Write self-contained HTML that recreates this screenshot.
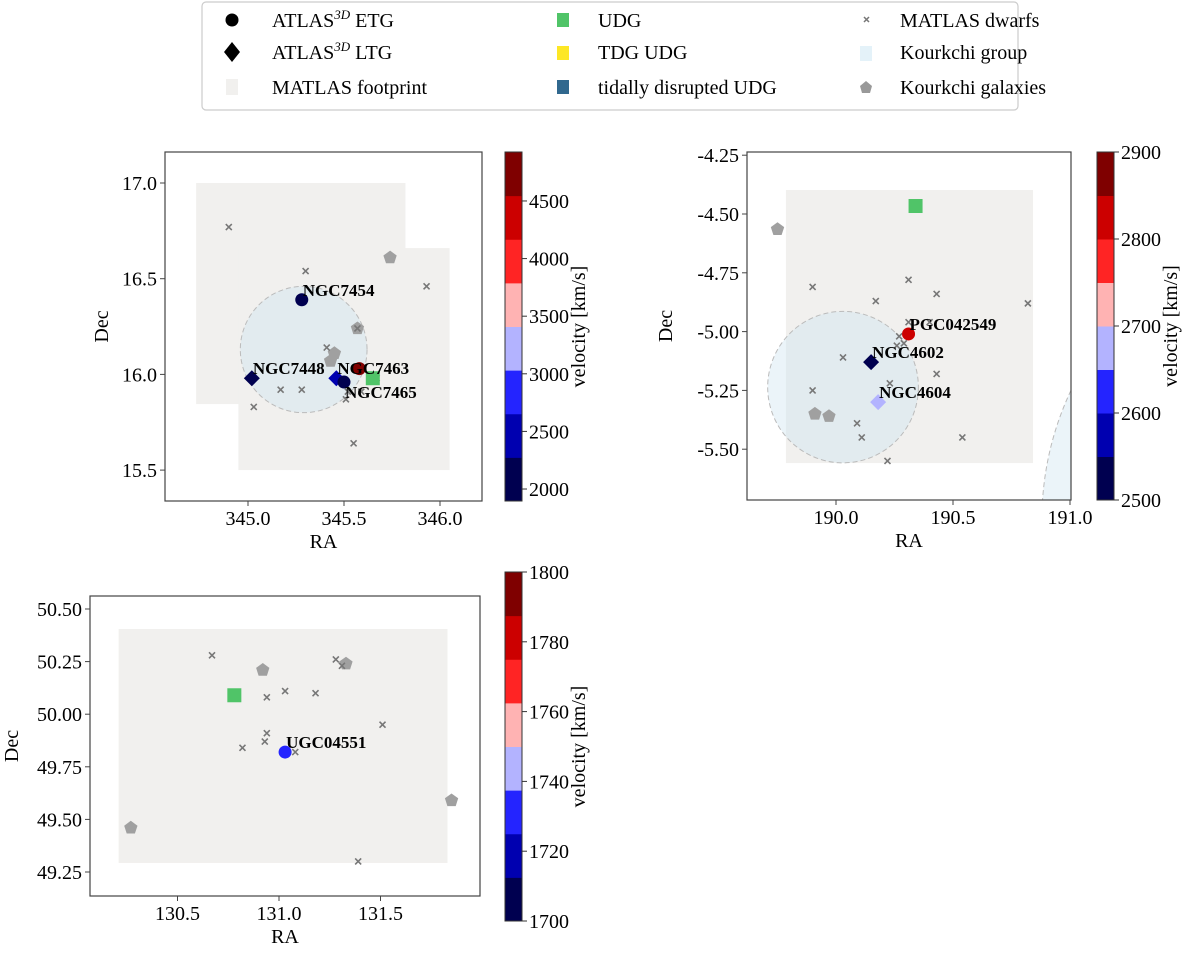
<!DOCTYPE html>
<html><head><meta charset="utf-8"><style>
body{margin:0;background:#fff;}
svg, svg text{font-family:"Liberation Serif","DejaVu Serif",serif;}
</style></head><body>
<svg id="fig" width="1200" height="958" viewBox="0 0 1200 958" font-family="Liberation Serif, serif">
<g id="legend">
<rect x="202" y="2" width="816" height="108" rx="4" fill="#fff" stroke="#ccc" stroke-width="1.2"/>
<g><circle cx="232" cy="20" r="6.5" fill="#000"/><text x="272" y="27" font-size="20">ATLAS<tspan font-size="13" dy="-8" font-style="italic">3D</tspan><tspan dy="8"> ETG</tspan></text></g>
<g><polygon points="232,42 240,52 232,62 224,52" fill="#000"/><text x="272" y="59" font-size="20">ATLAS<tspan font-size="13" dy="-8" font-style="italic">3D</tspan><tspan dy="8"> LTG</tspan></text></g>
<g><rect x="226" y="79" width="12" height="16" fill="#f1f0ee"/><text x="272" y="94" font-size="20">MATLAS footprint</text></g>
<g><rect x="557" y="13" width="12" height="14" fill="#50c468"/><text x="598" y="27" font-size="20">UDG</text></g>
<g><rect x="557" y="46" width="12" height="14" fill="#fde725"/><text x="598" y="59" font-size="20">TDG UDG</text></g>
<g><rect x="557" y="80" width="12" height="14" fill="#31688e"/><text x="598" y="94" font-size="20">tidally disrupted UDG</text></g>
<g><path d="M864,17 l5,5 M869,17 l-5,5" stroke="#777" stroke-width="1.5"/><text x="900" y="27" font-size="20">MATLAS dwarfs</text></g>
<g><rect x="860" y="46" width="12" height="15" fill="#e4f2f9"/><text x="900" y="59" font-size="20">Kourkchi group</text></g>
<g><polygon points="866,81 872,86 870,93 862,93 860,86" fill="#999"/><text x="900" y="94" font-size="20">Kourkchi galaxies</text></g>
</g>
</svg>
<script>
// ---- Panel 1 (NGC7454 group) ----
const p1Ticks = [345.0, 345.5, 346.0];
const p1YTicks = [15.5, 16.0, 16.5, 17.0];
const p1CbTicks = [2000, 2500, 3000, 3500, 4000, 4500];
const p1Foot = [[344.73, 345.82, 15.845, 17.0], [344.95, 346.05, 15.5, 16.66]];
const p1Group = [[345.29, 16.13, 0.33]];
const p1EtgRA = [345.28, 345.50, 345.58];
const p1EtgDec = [16.39, 15.96, 16.03];
const p1EtgVel = [2020, 1960, 4600];
const p1EtgName = ["NGC7454", "NGC7465", ""];
const p1EtgLabDy = [0, 20, 0];
const p1LtgRA = [345.02, 345.46];
const p1LtgDec = [15.98, 15.98];
const p1LtgVel = [2200, 2400];
const p1LtgName = ["NGC7448", "NGC7463"];
const p1UdgRA = [345.65];
const p1UdgDec = [15.98];
const p1KgRA = [345.74, 345.57, 345.45, 345.43];
const p1KgDec = [16.61, 16.24, 16.11, 16.07];
const p1DwRA = [344.90, 345.30, 345.93, 345.57, 345.41, 345.17, 345.28, 345.03, 345.51, 345.52, 345.59, 345.67, 345.55];
const p1DwDec = [16.77, 16.54, 16.46, 16.24, 16.14, 15.92, 15.92, 15.83, 15.87, 15.91, 15.91, 15.98, 15.64];

// ---- Panel 2 (NGC4602 group) ----
const p2Ticks = [190.0, 190.5, 191.0];
const p2YTicks = [-5.5, -5.25, -5.0, -4.75, -4.5, -4.25];
const p2CbTicks = [2500, 2600, 2700, 2800, 2900];
const p2Foot = [[189.786, 190.842, -5.559, -4.398]];
const p2Group = [[190.03, -5.236, 0.322], [192.16, -5.80, 1.28]];
const p2EtgRA = [190.31];
const p2EtgDec = [-5.01];
const p2EtgVel = [2825];
const p2EtgName = ["PGC042549"];
const p2EtgLabDy = [0];
const p2LtgRA = [190.15, 190.18];
const p2LtgDec = [-5.13, -5.30];
const p2LtgVel = [2520, 2670];
const p2LtgName = ["NGC4602", "NGC4604"];
const p2UdgRA = [190.34];
const p2UdgDec = [-4.466];
const p2KgRA = [189.75, 189.91, 189.97];
const p2KgDec = [-4.565, -5.35, -5.36];
const p2DwRA = [189.90, 190.31, 190.17, 190.43, 190.82, 190.31, 190.40, 190.27, 190.29, 190.26, 190.03, 190.43, 190.23, 189.90, 190.09, 190.11, 190.54, 190.22];
const p2DwDec = [-4.81, -4.78, -4.87, -4.84, -4.88, -4.96, -4.96, -5.02, -5.05, -5.06, -5.11, -5.18, -5.22, -5.25, -5.39, -5.45, -5.45, -5.55];

// ---- Panel 3 (UGC04551) ----
const p3Ticks = [130.5, 131.0, 131.5];
const p3YTicks = [49.25, 49.5, 49.75, 50.0, 50.25, 50.5];
const p3CbTicks = [1700, 1720, 1740, 1760, 1780, 1800];
const p3Foot = [[130.21, 131.83, 49.293, 50.405]];
const p3Group = [];
const p3EtgRA = [131.03];
const p3EtgDec = [49.82];
const p3EtgVel = [1735];
const p3EtgName = ["UGC04551"];
const p3EtgLabDy = [0];
const p3LtgRA = [];
const p3LtgDec = [];
const p3LtgVel = [];
const p3LtgName = [];
const p3UdgRA = [130.78];
const p3UdgDec = [50.09];
const p3KgRA = [130.92, 131.33, 131.85, 130.27];
const p3KgDec = [50.21, 50.24, 49.59, 49.46];
const p3DwRA = [130.67, 131.28, 131.31, 131.03, 130.94, 131.18, 131.51, 130.94, 130.93, 130.82, 131.08, 131.39];
const p3DwDec = [50.28, 50.26, 50.23, 50.11, 50.08, 50.10, 49.95, 49.91, 49.87, 49.84, 49.82, 49.30];

const bandColors = ["#000050", "#0000b0", "#2424ff", "#b3b3ff", "#ffb3b3", "#ff2424", "#cc0000", "#7f0000"];
const NS = "http://www.w3.org/2000/svg";
const FONT = '"Liberation Serif", "DejaVu Serif", serif';
const svg = document.getElementById('fig');
function mk(tag, attrs, parent) {
  const e = document.createElementNS(NS, tag);
  for (const k in attrs) e.setAttribute(k, attrs[k]);
  if (tag === 'text') e.setAttribute('font-family', FONT);
  parent.appendChild(e);
  return e;
}
function fmt(v, d) { return v.toFixed(d); }

function panel(cfg, id) {
  const g = mk('g', {}, svg);
  
  
  const xS = v => cfg.px0 + (v - cfg.x0) * cfg.kx;
  const yS = v => cfg.py0 - (v - cfg.y0) * cfg.ky;
  const cp = mk('clipPath', {id: 'clip' + id}, g);
  mk('rect', {x: cfg.L, y: cfg.T, width: cfg.R - cfg.L, height: cfg.B - cfg.T}, cp);
  const plot = mk('g', {'clip-path': 'url(#clip' + id + ')'}, g);
  cfg.foot.forEach(f => {
    const r = mk('rect', {x: xS(f[0]), y: yS(f[3]), width: xS(f[1]) - xS(f[0]), height: yS(f[2]) - yS(f[3]), fill: '#f1f0ee'}, plot);
    
    
  });
  cfg.group.forEach(c => {
    const e = mk('ellipse', {cx: xS(c[0]), cy: yS(c[1]), rx: c[2] * cfg.kx, ry: c[2] * cfg.ky, fill: 'rgba(205,228,240,0.4)', stroke: '#bbb', 'stroke-dasharray': '5,3', 'stroke-width': 1}, plot);
    
    
  });
  const col = v => {
    let i = Math.floor((v - cfg.vmin) / (cfg.vmax - cfg.vmin) * 8);
    i = Math.max(0, Math.min(7, i));
    return bandColors[i];
  };
  cfg.kgRA.forEach((ra, i) => {
    const x = xS(ra), y = yS(cfg.kgDec[i]), r = 7;
    let pts = [];
    for (let k = 0; k < 5; k++) { const a = -Math.PI / 2 + k * 2 * Math.PI / 5; pts.push((x + r * Math.cos(a)).toFixed(1) + ',' + (y + r * Math.sin(a)).toFixed(1)); }
    const p = mk('polygon', {points: pts.join(' '), fill: '#a0a0a0'}, plot);
    
    
  });
  cfg.dwRA.forEach((ra, i) => {
    const x = xS(ra), y = yS(cfg.dwDec[i]);
    const p = mk('path', {d: `M${x-3},${y-3}L${x+3},${y+3}M${x+3},${y-3}L${x-3},${y+3}`, stroke: '#777', 'stroke-width': 1.6}, plot);
    
    
  });
  cfg.udgRA.forEach((ra, i) => {
    const x = xS(ra), y = yS(cfg.udgDec[i]);
    const p = mk('rect', {x: x - 7, y: y - 7, width: 14, height: 14, fill: '#50c468'}, plot);
    
    
  });
  cfg.ltgRA.forEach((ra, i) => {
    const x = xS(ra), y = yS(cfg.ltgDec[i]);
    const p = mk('polygon', {points: `${x},${y-8} ${x+8},${y} ${x},${y+8} ${x-8},${y}`, fill: col(cfg.ltgVel[i])}, plot);
    
    
  });
  cfg.etgRA.forEach((ra, i) => {
    const x = xS(ra), y = yS(cfg.etgDec[i]);
    const p = mk('circle', {cx: x, cy: y, r: 6.5, fill: col(cfg.etgVel[i])}, plot);
    
    
  });
  const labs = [];
  cfg.etgRA.forEach((ra, i) => labs.push([ra, cfg.etgDec[i], cfg.etgName[i], cfg.etgDy[i]]));
  cfg.ltgRA.forEach((ra, i) => labs.push([ra, cfg.ltgDec[i], cfg.ltgName[i], 0]));
  labs.forEach(l => {
    if (!l[2]) return;
    const t = mk('text', {x: xS(l[0]) + 1, y: yS(l[1]) - 4 + l[3], 'font-size': 17, 'font-weight': 'bold'}, g);
    t.textContent = l[2];
    
    
  });
  const fr = mk('rect', {x: cfg.L, y: cfg.T, width: cfg.R - cfg.L, height: cfg.B - cfg.T, fill: 'none', stroke: '#444', 'stroke-width': 1.2}, g);
  
  
  cfg.xt.forEach(v => {
    const x = xS(v);
    mk('line', {x1: x, x2: x, y1: cfg.B, y2: cfg.B + 5, stroke: '#444'}, g);
    const t = mk('text', {x: x, y: cfg.B + 24, 'font-size': 20, 'text-anchor': 'middle'}, g);
    t.textContent = fmt(v, 1);
    
    
  });
  cfg.yt.forEach(v => {
    const y = yS(v);
    mk('line', {x1: cfg.L - 5, x2: cfg.L, y1: y, y2: y, stroke: '#444'}, g);
    const t = mk('text', {x: cfg.L - 8, y: y + 7, 'font-size': 20, 'text-anchor': 'end'}, g);
    t.textContent = fmt(v, cfg.yd);
    
    
  });
  const xl = mk('text', {x: (cfg.L + cfg.R) / 2, y: cfg.B + 47, 'font-size': 20, 'text-anchor': 'middle'}, g);
  xl.textContent = 'RA';
  
  
  const yl = mk('text', {x: 0, y: 0, 'font-size': 20, 'text-anchor': 'middle', transform: `translate(${cfg.ylx},${(cfg.T + cfg.B) / 2}) rotate(-90)`}, g);
  yl.textContent = 'Dec';
  
  
  // colorbar
  const cb = mk('g', {}, g);
  
  
  const ch = (cfg.cbB - cfg.cbT) / 8;
  for (let k = 0; k < 8; k++) {
    mk('rect', {x: cfg.cbX, y: cfg.cbB - (k + 1) * ch, width: 17, height: ch + 0.5, fill: bandColors[k]}, cb);
  }
  mk('rect', {x: cfg.cbX, y: cfg.cbT, width: 17, height: cfg.cbB - cfg.cbT, fill: 'none', stroke: '#333', 'stroke-width': 1}, cb);
  const cy = v => cfg.cbB - (v - cfg.vmin) / (cfg.vmax - cfg.vmin) * (cfg.cbB - cfg.cbT);
  cfg.cbt.forEach(v => {
    const y = cy(v);
    mk('line', {x1: cfg.cbX + 17, x2: cfg.cbX + 22, y1: y, y2: y, stroke: '#333'}, cb);
    const t = mk('text', {x: cfg.cbX + 24, y: y + 7, 'font-size': 20}, cb);
    t.textContent = String(v);
    
    
  });
  const cl = mk('text', {x: 0, y: 0, 'font-size': 20, 'text-anchor': 'middle', transform: `translate(${cfg.cbX + 80},${(cfg.cbT + cfg.cbB) / 2}) rotate(-90)`}, cb);
  cl.textContent = 'velocity [km/s]';
  
  
}

panel({L: 165, R: 482, T: 152, B: 501, px0: 248, x0: 345, kx: 192, py0: 183, y0: 17, ky: 191.4, yd: 1, ylx: 108,
  xt: p1Ticks, yt: p1YTicks, cbt: p1CbTicks, foot: p1Foot, group: p1Group,
  etgRA: p1EtgRA, etgDec: p1EtgDec, etgVel: p1EtgVel, etgName: p1EtgName, etgDy: p1EtgLabDy,
  ltgRA: p1LtgRA, ltgDec: p1LtgDec, ltgVel: p1LtgVel, ltgName: p1LtgName,
  udgRA: p1UdgRA, udgDec: p1UdgDec, kgRA: p1KgRA, kgDec: p1KgDec, dwRA: p1DwRA, dwDec: p1DwDec,
  vmin: 1896, vmax: 4925, cbX: 505, cbT: 152, cbB: 501}, 1);
panel({L: 747, R: 1071, T: 152, B: 500, px0: 836, x0: 190, kx: 234, py0: 214, y0: -4.5, ky: 235.2, yd: 2, ylx: 672,
  xt: p2Ticks, yt: p2YTicks, cbt: p2CbTicks, foot: p2Foot, group: p2Group,
  etgRA: p2EtgRA, etgDec: p2EtgDec, etgVel: p2EtgVel, etgName: p2EtgName, etgDy: p2EtgLabDy,
  ltgRA: p2LtgRA, ltgDec: p2LtgDec, ltgVel: p2LtgVel, ltgName: p2LtgName,
  udgRA: p2UdgRA, udgDec: p2UdgDec, kgRA: p2KgRA, kgDec: p2KgDec, dwRA: p2DwRA, dwDec: p2DwDec,
  vmin: 2500, vmax: 2900, cbX: 1097, cbT: 152, cbB: 500}, 2);
panel({L: 90, R: 480, T: 596, B: 896, px0: 279, x0: 131, kx: 203, py0: 609, y0: 50.5, ky: 210.4, yd: 2, ylx: 18,
  xt: p3Ticks, yt: p3YTicks, cbt: p3CbTicks, foot: p3Foot, group: p3Group,
  etgRA: p3EtgRA, etgDec: p3EtgDec, etgVel: p3EtgVel, etgName: p3EtgName, etgDy: p3EtgLabDy,
  ltgRA: p3LtgRA, ltgDec: p3LtgDec, ltgVel: p3LtgVel, ltgName: p3LtgName,
  udgRA: p3UdgRA, udgDec: p3UdgDec, kgRA: p3KgRA, kgDec: p3KgDec, dwRA: p3DwRA, dwDec: p3DwDec,
  vmin: 1700, vmax: 1800, cbX: 505, cbT: 572, cbB: 921}, 3);
</script>
</body></html>
